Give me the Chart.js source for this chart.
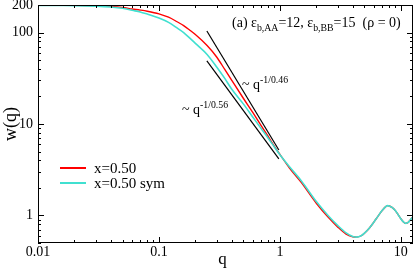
<!DOCTYPE html>
<html><head><meta charset="utf-8">
<script src="https://cdn.jsdelivr.net/npm/chart.js@4.4.0/dist/chart.umd.min.js"></script>
<style>html,body{margin:0;padding:0;background:#fff;}</style>
</head><body>
<canvas id="c" width="415" height="269"></canvas>
<script>
// ---- data ----
const qRed = [0.01,0.015,0.02,0.03,0.04,0.05,0.06,0.07,0.08,0.1,0.12,0.14,0.16,0.18,0.2,0.25,0.3,0.35,0.4,0.5,0.6,0.7,0.8,0.9,1.0,1.2,1.5,2,2.5,3,3.5,4,4.3,4.7,5,5.5,6,6.5,7,7.5,7.8,8,8.5,9,9.5,10,10.5,11,11.5,12,12.6];
const wRed = [199,198.5,198,196,193,188,181,176,171,160,147,132,119,106,95,72,54,39.5,30,19,13.2,9.6,7.3,5.7,4.65,3.3,2.3,1.36,0.96,0.75,0.63,0.585,0.58,0.6,0.64,0.73,0.85,0.99,1.13,1.25,1.28,1.27,1.22,1.13,1.02,0.92,0.85,0.82,0.84,0.9,0.97];
const qSym = [0.01,0.015,0.02,0.03,0.04,0.05,0.06,0.07,0.08,0.1,0.12,0.14,0.16,0.18,0.2,0.25,0.3,0.35,0.4,0.5,0.6,0.7,0.8,0.9,1.0,1.2,1.5,2,2.5,3,3.5,4,4.3,4.7,5,5.5,6,6.5,7,7.5,7.8,8,8.5,9,9.5,10,10.5,11,11.5,12,12.6];
const wSym = [198,197.5,197,194,190,184,175,168,159,144,129,113,100,87,76,57.5,42,31.5,24,16.5,11.8,8.9,7.0,5.6,4.6,3.4,2.4,1.42,1.0,0.78,0.65,0.59,0.58,0.6,0.64,0.73,0.85,0.99,1.13,1.25,1.28,1.27,1.22,1.13,1.02,0.92,0.85,0.82,0.84,0.9,0.97];
// guide power laws
const qGuide046 = [0.249, 0.98];
const wGuide046 = [104, 5.2];
const qGuide056 = [0.249, 0.98];
const wGuide056 = [48.9, 4.15];
// axes
const xMajor = [0.01, 0.1, 1, 10];
const xTickLabels = ['0.01', '0.1', '1', '10'];
const yMajor = [1, 10, 100, 200];
const yTickLabels = ['1', '10', '100', '200'];
const seriesNames = ['x=0.50', 'x=0.50 sym'];

const pts = (xs, ys) => xs.map((v, i) => ({x: v, y: ys[i]}));
const SERIF = "'Liberation Serif','Times New Roman',serif";

function drawRich(ctx, x, y, parts, size) {
  let cx = x;
  for (const p of parts) {
    const fs = p.s === 'n' ? size : size * 0.7;
    ctx.font = fs + 'px ' + SERIF;
    const dy = p.s === 'sub' ? size * 0.3 : (p.s === 'sup' ? -size * 0.45 : 0);
    ctx.fillText(p.t, cx, y + dy);
    cx += ctx.measureText(p.t).width;
  }
}

const decor = {
  id: 'decor',
  afterDraw(chart) {
    const {ctx, chartArea: a, scales: {x, y}} = chart;
    ctx.save();
    ctx.strokeStyle = '#000';
    ctx.lineWidth = 1;
    ctx.strokeRect(a.left + 0.5, a.top + 0.5, a.right - a.left - 1, a.bottom - a.top - 1);
    ctx.beginPath();
    for (let d = 0.01; d < 100; d *= 10) {
      for (let k = 1; k <= 9; k++) {
        const v = d * k;
        if (v < x.min * 0.999 || v > x.max * 1.001) continue;
        const len = k === 1 ? 6 : 3;
        const px = Math.round(x.getPixelForValue(v)) + 0.5;
        ctx.moveTo(px, a.bottom); ctx.lineTo(px, a.bottom - len);
        ctx.moveTo(px, a.top); ctx.lineTo(px, a.top + len);
      }
    }
    for (let d = 0.1; d < 1000; d *= 10) {
      for (let k = 1; k <= 9; k++) {
        const v = d * k;
        if (v < y.min * 0.999 || v > y.max * 1.001) continue;
        const len = k === 1 ? 6 : 3;
        const py = Math.round(y.getPixelForValue(v)) + 0.5;
        ctx.moveTo(a.left, py); ctx.lineTo(a.left + len, py);
        ctx.moveTo(a.right, py); ctx.lineTo(a.right - len, py);
      }
    }
    ctx.stroke();

    ctx.fillStyle = '#000';
    ctx.textBaseline = 'alphabetic';
    ctx.font = '17px ' + SERIF;
    ctx.textAlign = 'center';
    ctx.fillText('q', (a.left + a.right) / 2 - 3, 264);
    ctx.save();
    ctx.translate(16, (a.top + a.bottom) / 2);
    ctx.rotate(-Math.PI / 2);
    ctx.font = '18px ' + SERIF;
    ctx.fillText('w(q)', 0, 0);
    ctx.restore();

    ctx.textAlign = 'left';
    drawRich(ctx, 232, 27, [
      {t: '(a) ε', s: 'n'}, {t: 'b,AA', s: 'sub'}, {t: '=12, ε', s: 'n'},
      {t: 'b,BB', s: 'sub'}, {t: '=15  (ρ = 0)', s: 'n'}], 14);
    drawRich(ctx, 242, 89, [{t: '~ q', s: 'n'}, {t: '-1/0.46', s: 'sup'}], 14);
    drawRich(ctx, 182, 114, [{t: '~ q', s: 'n'}, {t: '-1/0.56', s: 'sup'}], 14);

    const legCols = ['#ff0000', '#40e0d0'];
    ctx.font = '15px ' + SERIF;
    for (let i = 0; i < seriesNames.length; i++) {
      const ly = 168 + i * 15;
      ctx.strokeStyle = legCols[i];
      ctx.lineWidth = 2;
      ctx.beginPath(); ctx.moveTo(60, ly); ctx.lineTo(86, ly); ctx.stroke();
      ctx.fillText(seriesNames[i], 94, ly + 5);
    }
    ctx.restore();
  }
};

new Chart(document.getElementById('c'), {
  type: 'line',
  data: {
    datasets: [
      {label: seriesNames[1], data: pts(qSym, wSym), borderColor: '#40e0d0', borderWidth: 1.6, pointRadius: 0, cubicInterpolationMode: 'monotone', order: 0},
      {label: seriesNames[0], data: pts(qRed, wRed), borderColor: '#ff0000', borderWidth: 1.4, pointRadius: 0, cubicInterpolationMode: 'monotone', order: 1},
      {label: 'g046', data: pts(qGuide046, wGuide046), borderColor: '#000', borderWidth: 1.2, pointRadius: 0, order: 2},
      {label: 'g056', data: pts(qGuide056, wGuide056), borderColor: '#000', borderWidth: 1.2, pointRadius: 0, order: 2}
    ]
  },
  options: {
    responsive: false,
    animation: false,
    devicePixelRatio: 1,
    layout: {padding: {top: 5, right: 2, left: 0, bottom: 0}},
    plugins: {legend: {display: false}, tooltip: {enabled: false}},
    scales: {
      x: {
        type: 'logarithmic', min: 0.01, max: 12.6,
        grid: {display: false, drawTicks: false},
        border: {display: false},
        afterBuildTicks: s => { s.ticks = xMajor.map(v => ({value: v})); },
        afterFit: s => { s.height = 26; s.paddingLeft = 0; s.paddingRight = 0; },
        ticks: {
          autoSkip: false, maxRotation: 0, padding: 1, color: '#000',
          font: {family: SERIF, size: 14},
          callback: (v) => { const i = xMajor.indexOf(v); return i >= 0 ? xTickLabels[i] : ''; }
        }
      },
      y: {
        type: 'logarithmic', min: 0.5, max: 200,
        grid: {display: false, drawTicks: false},
        border: {display: false},
        afterBuildTicks: s => { s.ticks = yMajor.map(v => ({value: v})); },
        afterFit: s => { s.width = 38; s.paddingTop = 0; s.paddingBottom = 0; },
        ticks: {
          autoSkip: false, padding: 5, color: '#000',
          font: {family: SERIF, size: 14},
          callback: (v) => { const i = yMajor.indexOf(v); return i >= 0 ? yTickLabels[i] : ''; }
        }
      }
    }
  },
  plugins: [decor]
});
</script>
</body></html>
